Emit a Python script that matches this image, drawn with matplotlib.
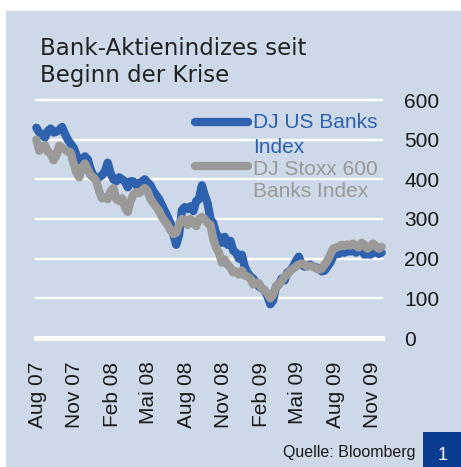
import matplotlib
matplotlib.use("Agg")
import matplotlib.pyplot as plt
from matplotlib.lines import Line2D
from matplotlib.patches import Rectangle
import pandas as pd

plt.rcParams['font.family'] = ['Liberation Sans', 'DejaVu Sans']

# ---------------- data ----------------
title_lines = ["Bank-Aktienindizes seit", "Beginn der Krise"]
series_names = ["DJ US Banks", "Index", "DJ Stoxx 600", "Banks Index"]
source_text = "Quelle: Bloomberg"
chart_number = "1"

dates = pd.date_range("2007-07-30", periods=122, freq="7D")

us_banks = [530, 518, 512, 505, 522, 528, 518, 520, 525, 532,
            515, 500, 490, 480, 462, 448, 445, 458, 450, 425,
            410, 400, 405, 410, 420, 442, 415, 400, 395, 405,
            400, 395, 380, 395, 395, 385, 390, 395, 400, 392,
            385, 370, 360, 350, 335, 320, 305, 290, 262, 235,
            260, 322, 330, 325, 332, 320, 345, 350, 385, 360,
            340, 300, 290, 262, 255, 240, 255, 235, 245, 220,
            215, 200, 210, 180, 165, 155, 150, 140, 130, 125,
            120, 105, 85, 95, 130, 135, 150, 145, 165, 170,
            180, 195, 205, 185, 180, 182, 185, 180, 178, 175,
            168, 170, 180, 190, 205, 215, 212, 218, 215, 220,
            218, 225, 215, 220, 225, 210, 212, 210, 215, 218,
            212, 215]

stoxx_banks = [500, 472, 480, 486, 470, 465, 448, 460, 485, 480,
               475, 470, 468, 440, 418, 405, 430, 440, 425, 410,
               405, 395, 370, 352, 355, 350, 370, 378, 350, 345,
               352, 330, 318, 345, 362, 368, 365, 372, 378, 370,
               350, 340, 330, 320, 305, 295, 285, 272, 262, 265,
               285, 300, 298, 285, 300, 290, 282, 300, 305, 300,
               290, 285, 250, 228, 215, 190, 198, 185, 178, 165,
               168, 160, 170, 158, 155, 150, 135, 140, 138, 125,
               120, 112, 100, 110, 130, 135, 145, 155, 160, 170,
               175, 180, 185, 188, 185, 180, 182, 180, 176, 172,
               175, 185, 195, 210, 225, 228, 230, 235, 232, 236,
               233, 238, 232, 228, 240, 235, 225, 230, 238, 232,
               225, 230]

y_ticks = [0, 100, 200, 300, 400, 500, 600]
x_tick_dates = pd.to_datetime(["2007-08-01", "2007-11-01", "2008-02-01", "2008-05-01",
                               "2008-08-01", "2008-11-01", "2009-02-01", "2009-05-01",
                               "2009-08-01", "2009-11-01"])
x_tick_labels = ["Aug 07", "Nov 07", "Feb 08", "Mai 08", "Aug 08",
                 "Nov 08", "Feb 09", "Mai 09", "Aug 09", "Nov 09"]

# ---------------- style ----------------
W, H = 461, 467
PANEL = "#cdd8e8"
BLUE = "#2f62ae"
GRAY = "#9b9a98"
TEXT = "#1a1a1a"
BOX = "#0b3c8f"
LW = 6.0


def fx(x):
    return x / W


def fy(y):
    return 1 - y / H


fig = plt.figure(figsize=(W / 100, H / 100), dpi=100)
fig.patch.set_facecolor("white")
fig.add_artist(Rectangle((fx(6), 0), 1 - fx(6), fy(11), transform=fig.transFigure,
                         facecolor=PANEL, edgecolor="none", zorder=0))

ax = fig.add_axes([fx(36), fy(338), (382 - 36) / W, (338 - 100) / H])
ax.set_facecolor("none")
for s in ax.spines.values():
    s.set_visible(False)

for v in y_ticks:
    ax.axhline(v, color="white", lw=3.6 if v == 0 else 1.7, zorder=1, clip_on=False)

ax.plot(dates, us_banks, color=BLUE, lw=LW, solid_joinstyle="round",
        solid_capstyle="round", zorder=3, clip_on=False)
ax.plot(dates, stoxx_banks, color=GRAY, lw=LW, solid_joinstyle="round",
        solid_capstyle="round", zorder=4, clip_on=False)

ax.set_ylim(0, 600)
ax.set_xlim(pd.Timestamp("2007-07-29"), pd.Timestamp("2009-11-24"))

ax.yaxis.tick_right()
ax.set_yticks(y_ticks)
ax.set_yticklabels([str(v) for v in y_ticks])
ax.tick_params(axis="y", length=0, pad=16, labelsize=15, labelcolor=TEXT)

ax.set_xticks(x_tick_dates)
ax.set_xticklabels(x_tick_labels, rotation=90, ha="center", va="top")
ax.tick_params(axis="x", length=0, pad=17, labelsize=15, labelcolor=TEXT)

# title
fig.text(fx(40), fy(55), title_lines[0], fontsize=16.5, color="#222222",
         family="DejaVu Sans", va="baseline", ha="left")
fig.text(fx(40), fy(82), title_lines[1], fontsize=16.5, color="#222222",
         family="DejaVu Sans", va="baseline", ha="left")

# legend
fig.add_artist(Line2D([fx(195), fx(248)], [fy(122), fy(122)], transform=fig.transFigure,
                      color=BLUE, lw=LW, solid_capstyle="round", zorder=5))
fig.add_artist(Line2D([fx(195), fx(248)], [fy(166), fy(166)], transform=fig.transFigure,
                      color=GRAY, lw=LW, solid_capstyle="round", zorder=5))
fig.text(fx(253), fy(128), series_names[0], fontsize=15, color=BLUE, va="baseline", zorder=6)
fig.text(fx(253), fy(153), series_names[1], fontsize=15, color=BLUE, va="baseline", zorder=6)
fig.text(fx(253), fy(175), series_names[2], fontsize=15, color=GRAY, va="baseline", zorder=6)
fig.text(fx(253), fy(197), series_names[3], fontsize=15, color=GRAY, va="baseline", zorder=6)

# source and number box
fig.text(fx(415), fy(457), source_text, fontsize=11.5, color=TEXT, ha="right", va="baseline")
fig.add_artist(Rectangle((fx(423), 0), 1 - fx(423), fy(432), transform=fig.transFigure,
                         facecolor=BOX, edgecolor="none", zorder=2))
fig.text(fx(443), fy(460), chart_number, fontsize=13, color="white", ha="center",
         va="baseline", zorder=3)

fig.savefig("out.png", dpi=100)
